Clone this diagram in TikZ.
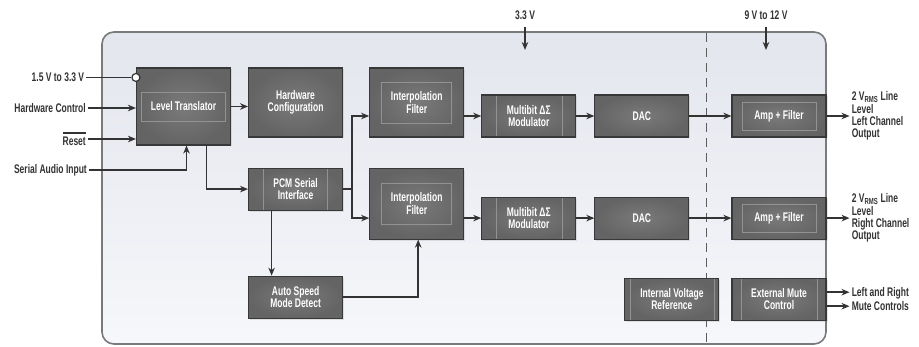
\documentclass[tikz,border=0pt]{standalone}
\usepackage{fontspec}
\setmainfont{Liberation Sans}[FakeStretch=0.68]
\usetikzlibrary{arrows.meta,calc,positioning,shadows}
\definecolor{ink}{HTML}{333333}
\definecolor{blockfill}{HTML}{646464}
\definecolor{blocklite}{HTML}{7A7A7A}
\definecolor{blockedge}{HTML}{383838}
\definecolor{rulegrey}{HTML}{929292}
\definecolor{paneledge}{HTML}{7A7A7A}
\definecolor{panelA}{HTML}{E4E6EE}
\definecolor{panelB}{HTML}{F6F7FA}
\newcommand\boxfont{\fontsize{12.5}{12.3}\selectfont\bfseries}
\newcommand\activelow[1]{\setbox0\hbox{#1}\rlap{\rule[\dimexpr\ht0+3.5pt\relax]{\wd0}{1.6pt}}\box0}
\tikzset{
  block/.style={draw=blockedge, line width=1.1pt, inner color=blocklite,
    outer color=blockfill, text=white, align=center, font=\boxfont,
    minimum width=94pt, minimum height=42pt, inner sep=2pt,
    drop shadow={opacity=0.2, shadow xshift=1.5pt, shadow yshift=-1.5pt}},
  inset/.style={draw=rulegrey, line width=0.6pt},
  framed/.style 2 args={path picture={
    \draw[inset] ([shift={(#1,-#2)}]path picture bounding box.north west)
      rectangle ([shift={(-#1,#2)}]path picture bounding box.south east);}},
  ruled/.style={path picture={
    \draw[inset] ([xshift=#1]path picture bounding box.north west)
      -- ([xshift=#1]path picture bounding box.south west)
      ([xshift=-#1]path picture bounding box.north east)
      -- ([xshift=-#1]path picture bounding box.south east);}},
  terminal/.style={circle, draw=ink, fill=white, line width=1.2pt,
    minimum size=8pt, inner sep=0pt},
  wire/.style={draw=ink, line width=1.5pt},
  flow/.style={wire, -{Stealth[length=8pt, width=6.5pt, inset=2.5pt]}},
  pinlabel/.style={text=ink, font=\boxfont, inner sep=2pt},
  outlabel/.style={pinlabel, align=left, anchor=west},
  panel/.style={draw=paneledge, line width=1.6pt, rounded corners=12pt,
    top color=panelA, bottom color=panelB},
  divider/.style={draw=ink!80, line width=0.8pt, dash pattern=on 9pt off 6pt}
}
\begin{document}
\begin{tikzpicture}[x=1pt, y=-1pt, node distance=17pt]
  \path[fill=white, use as bounding box] (0,0) rectangle (919,347);
  % chip outline and supply split
  \draw[panel] (102,32) rectangle (826,344);
  \draw[divider] (706,33) -- (706,344);

  % left channel row
  \node[block, minimum height=77pt, framed={5pt}{24pt}] (lt) at (183.5,106.5) {Level Translator};
  \node[block, minimum height=69pt, right=17pt of lt.north east, anchor=north west] (hw) {Hardware\\Configuration};
  \node[block, minimum height=69pt, framed={12pt}{14pt}, right=26pt of hw.north east, anchor=north west] (ifl) {Interpolation\\Filter};
  \node[block, ruled=14pt, right=of ifl.south east, anchor=south west] (modl) {Multibit ΔΣ\\Modulator};
  \node[block, right=18pt of modl] (dacl) {DAC};
  \node[block, framed={10pt}{7pt}, right=42pt of dacl] (ampl) {Amp + Filter};

  % right channel row
  \node[block, ruled=15pt, below=30pt of hw.south west, anchor=north west] (pcm) {PCM Serial\\Interface};
  \node[block, minimum height=71pt, framed={12pt}{15pt}, below=30pt of ifl] (ifr) {Interpolation\\Filter};
  \node[block, ruled=14pt, right=of ifr.south east, anchor=south west] (modr) {Multibit ΔΣ\\Modulator};
  \node[block, right=18pt of modr] (dacr) {DAC};
  \node[block, framed={10pt}{7pt}, right=42pt of dacr] (ampr) {Amp + Filter};

  % bottom row
  \node[block, below=65pt of pcm] (asd) {Auto Speed\\Mode Detect};
  \node[block, ruled=9pt, below=38pt of ampr] (emc) {External Mute\\Control};
  \node[block, ruled=5pt, left=12pt of emc] (ivr) {Internal Voltage\\Reference};

  % pins
  \node[terminal] (vdd) at ([yshift=-10pt]lt.north west) {};
  \node[pinlabel, left=45pt of vdd] (vio) {1.5 V to 3.3 V};
  \node[pinlabel, anchor=east] (hwc) at (88,108) {Hardware Control};
  \node[pinlabel, anchor=east] (rst) at (88,139) {\activelow{Reset}};
  \node[pinlabel, anchor=east] (sai) at (89,170) {Serial Audio Input};
  \node[pinlabel] (vdig) at (525,15) {3.3 V};
  \node[pinlabel] (vana) at (766,15) {9 V to 12 V};
  \coordinate (vdigin) at (525,50);
  \coordinate (vanain) at (766,50);
  \node[outlabel, right=23pt of ampl] (outl) {2 V\textsubscript{RMS} Line\\Level\\Left Channel\\Output};
  \node[outlabel, right=23pt of ampr] (outr) {2 V\textsubscript{RMS} Line\\Level\\Right Channel\\Output};
  \node[outlabel, right=23pt of emc] (mute) {Left and Right\\[2pt]Mute Controls};

  % connections
  \draw[wire] (vio) -- (vdd);
  \draw[flow] (hwc) -- (hwc -| lt.west);
  \draw[flow] (rst) -- (rst -| lt.west);
  \draw[flow] (sai) -| ([xshift=3pt]lt.south);
  \draw[flow] ([yshift=-5pt]vdig.south) -- (vdigin);
  \draw[flow] ([yshift=-5pt]vana.south) -- (vanain);
  \draw[flow] (lt.east) -- (lt.east -| hw.west);
  \draw[flow] ([xshift=23pt]lt.south) |- (pcm);
  \draw[flow] (pcm.east) -- ++(9pt,0) |- (ifl.west |- modl.west);
  \draw[flow] (pcm.east) -- ++(9pt,0) |- (ifr.west |- modr.west);
  \draw[flow] ([xshift=-24pt]pcm.south) -- ([xshift=-24pt]asd.north);
  \draw[flow] (asd.east) -| ([xshift=1.5pt]ifr.south);
  \foreach \side in {l,r} {
    \draw[flow] (if\side.east |- mod\side.west) -- (mod\side.west);
    \draw[flow] (mod\side) -- (dac\side);
    \draw[flow] (dac\side) -- (amp\side);
    \draw[flow] (amp\side) -- (out\side);
  }
  \draw[flow] ([yshift=7pt]emc.east) -- ([yshift=7pt]emc.east -| mute.west);
  \draw[flow] ([yshift=-7pt]emc.east) -- ([yshift=-7pt]emc.east -| mute.west);
\end{tikzpicture}
\end{document}
